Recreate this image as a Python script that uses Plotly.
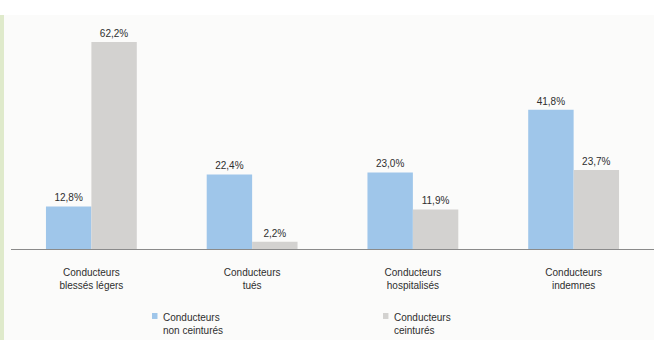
import plotly.graph_objects as go

categories = [
    "Conducteurs<br>blessés légers",
    "Conducteurs<br>tués",
    "Conducteurs<br>hospitalisés",
    "Conducteurs<br>indemnes",
]
series_names = ["Conducteurs<br>non ceinturés", "Conducteurs<br>ceinturés"]
non_ceintures = [12.8, 22.4, 23.0, 41.8]
ceintures = [62.2, 2.2, 11.9, 23.7]

colors = ["#9fc6ea", "#d3d2d0"]
text_color = "#2e2e2e"
font_family = "Liberation Sans, Arial, sans-serif"


def fmt(v):
    return f"{v:.1f}".replace(".", ",") + "%"


fig = go.Figure()
for name, vals, col in zip(series_names, [non_ceintures, ceintures], colors):
    fig.add_trace(go.Bar(
        x=categories,
        y=vals,
        name=name,
        marker=dict(color=col, line=dict(width=0)),
        text=[fmt(v) for v in vals],
        textposition="outside",
        textfont=dict(size=10, color=text_color, family=font_family),
        cliponaxis=False,
        showlegend=False,
    ))

# panel background and green left strip
fig.add_shape(type="rect", xref="paper", yref="paper", x0=-0.02, x1=1.0, y0=-0.389, y1=1.0,
              fillcolor="#fbfbfa", line=dict(width=0), layer="below")
fig.add_shape(type="rect", xref="paper", yref="paper", x0=-0.0171, x1=-0.0109, y0=-0.389, y1=1.0,
              fillcolor="#dfeacb", line=dict(width=0), layer="below")

# manual legend
legend_x = [0.2193, 0.5785]
for name, col, lx in zip(series_names, colors, legend_x):
    fig.add_shape(type="rect", xref="paper", yref="paper", x0=lx, x1=lx + 0.0085, y0=-0.299, y1=-0.2735,
                  fillcolor=col, line=dict(width=0))
    fig.add_annotation(xref="paper", yref="paper", x=lx + 0.0145, y=-0.262, text=name,
                       showarrow=False, xanchor="left", yanchor="top", align="left",
                       font=dict(size=10, color=text_color, family=font_family))

fig.update_layout(
    width=654,
    height=349,
    margin=dict(l=11, r=0, t=15, b=100),
    paper_bgcolor="#ffffff",
    plot_bgcolor="rgba(0,0,0,0)",
    barmode="group",
    bargap=0.435,
    bargroupgap=0,
    font=dict(family=font_family, color=text_color, size=10),
)
fig.update_xaxes(showline=True, linecolor="#8a8a8a", linewidth=1, ticks="",
                 tickfont=dict(size=10, color=text_color), ticklabelstandoff=14)
fig.update_yaxes(range=[0, 70.3], visible=False, showgrid=False, zeroline=False)

fig.write_html("out.html", config={"displayModeBar": False},
               post_script="document.body.style.margin='0';")
